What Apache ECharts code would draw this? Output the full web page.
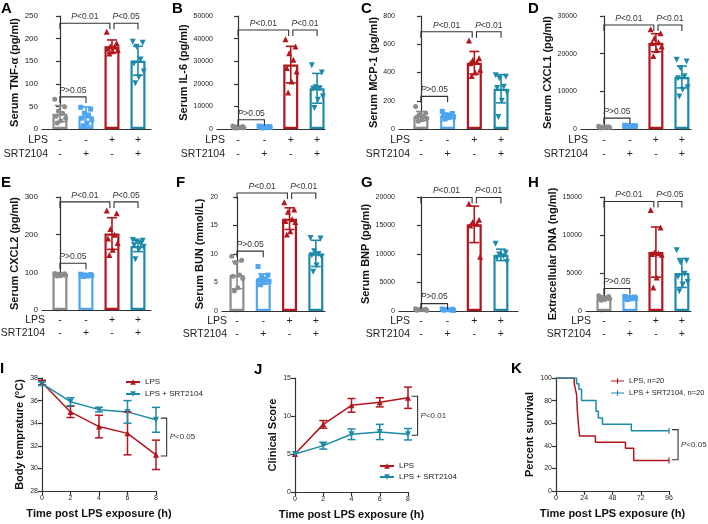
<!DOCTYPE html>
<html><head><meta charset="utf-8">
<script src="https://cdn.jsdelivr.net/npm/echarts@6/dist/echarts.min.js"></script>
<style>html,body{margin:0;padding:0;background:#fff}#c{width:708px;height:524px}</style>
</head><body><div id="c"></div>
<script>
const FONT = '"Liberation Sans", Arial, sans-serif';
// ---------- shared categories ----------
const groupNames = ['Vehicle', 'SRT2104', 'LPS', 'LPS + SRT2104'];
const lpsSigns = ['-', '-', '+', '+'];
const srtSigns = ['-', '+', '-', '+'];

// ---------- A: TNF-a ----------
const tnfMean = [34, 28, 183, 151];
const tnfSD = [18, 21, 14, 32];
const tnfPts = [[66, 49, 40, 35, 28, 24, 18, 13], [48, 44, 35, 31, 24, 20, 13, 7], [215, 190, 183, 182, 178, 175, 172, 167], [193, 191, 182, 154, 145, 127, 114, 101]];
const tnfAxis = [250, 50];
const tnfBrackets = [[0, 1.92, 234, 'P<0.01'], [2.08, 3, 234, 'P<0.05'], [0, 1, 71, 'P>0.05']];
// ---------- B: IL-6 ----------
const il6Mean = [800, 900, 28500, 18000];
const il6SD = [300, 250, 8100, 6600];
const il6Pts = [[1300, 1100, 900, 800, 700, 600, 500, 400], [1300, 1100, 1000, 900, 800, 700, 600, 500], [39700, 36500, 33500, 30600, 27000, 25400, 21000, 16200], [28200, 25000, 18500, 18000, 17800, 14400, 12900, 9300]];
const il6Axis = [50000, 10000];
const il6Brackets = [[0, 1.92, 43800, 'P<0.01'], [2.08, 3, 43800, 'P<0.01'], [0, 1, 4100, 'P>0.05']];
// ---------- C: MCP-1 ----------
const mcpMean = [91, 94, 469, 285];
const mcpSD = [33, 17, 80, 100];
const mcpPts = [[160, 113, 101, 90, 85, 75, 66, 54], [125, 110, 100, 95, 90, 85, 80, 70], [626, 501, 489, 475, 466, 419, 400, 376], [380, 370, 360, 300, 290, 260, 200, 85]];
const mcpAxis = [800, 200];
const mcpBrackets = [[0, 1.92, 689, 'P<0.01'], [2.08, 3, 689, 'P<0.01'], [0, 1, 231, 'P>0.05']];
// ---------- D: CXCL1 ----------
const cxcl1Mean = [500, 800, 22900, 13800];
const cxcl1SD = [130, 110, 2400, 2900];
const cxcl1Pts = [[700, 600, 550, 500, 450, 400, 380, 350], [1000, 900, 850, 800, 780, 750, 700, 650], [26500, 25400, 24100, 23000, 22800, 21900, 21000, 19400], [18400, 17900, 16200, 14000, 13500, 11100, 10400, 8600]];
const cxcl1Axis = [30000, 10000];
const cxcl1Brackets = [[0, 1.92, 27600, 'P<0.01'], [2.08, 3, 27600, 'P<0.01'], [0, 1, 2900, 'P>0.05']];
// ---------- E: CXCL2 ----------
const cxcl2Mean = [94, 92, 203, 170];
const cxcl2SD = [3, 2, 42, 15];
const cxcl2Pts = [[97, 96, 95, 94, 93, 92, 91, 90], [95, 94, 93, 92, 92, 91, 90, 89], [264, 257, 215, 200, 190, 178, 160, 146], [186, 184, 182, 176, 172, 168, 160, 135]];
const cxcl2Axis = [300, 100];
const cxcl2Brackets = [[0, 1.92, 287, 'P<0.01'], [2.08, 3, 287, 'P<0.05'], [0, 1, 124, 'P>0.05']];
// ---------- F: BUN ----------
const bunMean = [6.3, 5.6, 16.2, 10.1];
const bunSD = [2.4, 0.9, 1.9, 2.3];
const bunPts = [[9.6, 8.9, 8.5, 6.3, 6.1, 5.7, 4.1, 3.5], [7.8, 6.3, 6.0, 5.6, 5.4, 5.2, 5.0, 4.6], [19.1, 17.8, 17.4, 16.1, 15.8, 15.6, 14.0, 13.4], [12.8, 12.7, 10.5, 10.0, 9.8, 9.5, 8.0, 6.9]];
const bunAxis = [20, 5];
const bunBrackets = [[0, 1.92, 20.7, 'P<0.01'], [2.08, 3, 20.7, 'P<0.01'], [0, 1, 10.5, 'P>0.05']];
// ---------- G: BNP ----------
const bnpMean = [230, 225, 15200, 9850];
const bnpSD = [100, 90, 3200, 1000];
const bnpPts = [[400, 300, 250, 200, 150, 100], [350, 300, 250, 200, 150, 100], [18800, 16000, 15600, 15300, 15000, 9500], [11800, 10200, 9900, 9600, 9300, 8600]];
const bnpAxis = [20000, 5000];
const bnpBrackets = [[0, 1.92, 19900, 'P<0.01'], [2.08, 3, 19900, 'P<0.01'], [0, 1, 1300, 'P>0.05']];
// ---------- H: extracellular DNA ----------
const dnaMean = [1700, 1720, 7750, 5000];
const dnaSD = [200, 130, 3300, 1900];
const dnaPts = [[2000, 1900, 1800, 1700, 1650, 1600, 1500, 1400], [1900, 1850, 1800, 1750, 1700, 1650, 1600, 1500], [13300, 11000, 7700, 7600, 7500, 7400, 4400, 3100], [8000, 6600, 6400, 4900, 4500, 3800, 3500, 2600]];
const dnaAxis = [15000, 5000];
const dnaBrackets = [[0, 1.92, 14400, 'P<0.01'], [2.08, 3, 14400, 'P<0.05'], [0, 1, 2960, 'P>0.05']];

// ---------- I / J: time courses ----------
const timeH = [0, 2, 4, 6, 8];
const tempLps = [37.6, 35.0, 33.7, 33.1, 31.2];
const tempLpsSD = [0.2, 0.5, 1.0, 1.9, 1.3];
const tempSrt = [37.5, 35.9, 35.2, 35.0, 34.3];
const tempSrtSD = [0.15, 0.35, 0.2, 1.0, 1.1];
const tempBracket = [8.75, 34.45, 31.1, 'P<0.05'];
const scoreLps = [5, 8.9, 11.4, 11.8, 12.4];
const scoreLpsSD = [0, 0.5, 0.9, 0.6, 1.4];
const scoreSrt = [5, 6.1, 7.6, 7.9, 7.6];
const scoreSrtSD = [0, 0.45, 0.7, 1.0, 0.75];
const scoreBracket = [8.68, 12.6, 7.46, 'P<0.01'];
// ---------- K: survival ----------
const survLpsT = [0, 15.5, 16.5, 17.5, 18.2, 19, 20, 33.5, 59, 66, 96];
const survLpsS = [100, 95, 90, 85, 70, 60, 48.6, 43.2, 37.8, 27, 27];
const survSrtT = [0, 17.5, 19.5, 21.7, 34, 36, 39.5, 64, 96];
const survSrtS = [100, 95, 90, 80, 70.5, 64.6, 59, 53.4, 53.4];
const survBracket = [103.7, 54.3, 27.7, 'P<0.05'];

// ---------- styles / layout ----------
const groupColors = ['#8c8c8c', '#4ea5f2', '#b3161d', '#1c8aa8'];
const groupSymbols = ['circle', 'rect', 'triangle', 'triangle'];
const groupRotate = [0, 0, 0, 180];
const groupSizes = [5, 5, 6, 6];
const jitterX = [-0.2, 0.18, -0.06, 0.1, -0.15, 0.22, 0.03, -0.1];
const RED = '#b3161d', TEAL = '#1c8aa8', AX = '#333';

const barPanels = [
  { letter: 'A', title: 'Serum TNF-α (pg/ml)', mean: tnfMean, sd: tnfSD, pts: tnfPts, axis: tnfAxis, br: tnfBrackets },
  { letter: 'B', title: 'Serum IL-6 (pg/ml)', mean: il6Mean, sd: il6SD, pts: il6Pts, axis: il6Axis, br: il6Brackets },
  { letter: 'C', title: 'Serum MCP-1 (pg/ml)', mean: mcpMean, sd: mcpSD, pts: mcpPts, axis: mcpAxis, br: mcpBrackets },
  { letter: 'D', title: 'Serum CXCL1 (pg/ml)', mean: cxcl1Mean, sd: cxcl1SD, pts: cxcl1Pts, axis: cxcl1Axis, br: cxcl1Brackets },
  { letter: 'E', title: 'Serum CXCL2 (pg/ml)', mean: cxcl2Mean, sd: cxcl2SD, pts: cxcl2Pts, axis: cxcl2Axis, br: cxcl2Brackets },
  { letter: 'F', title: 'Serum BUN (mmol/L)', mean: bunMean, sd: bunSD, pts: bunPts, axis: bunAxis, br: bunBrackets },
  { letter: 'G', title: 'Serum BNP (pg/ml)', mean: bnpMean, sd: bnpSD, pts: bnpPts, axis: bnpAxis, br: bnpBrackets },
  { letter: 'H', title: 'Extracellular DNA (ng/ml)', mean: dnaMean, sd: dnaSD, pts: dnaPts, axis: dnaAxis, br: dnaBrackets }
];
const barLayout = [
  { left: 42, top: 16, width: 109, height: 113, xMin: -0.69, xMax: 3.5, gap: 21, tf: 8, rowRight: 48, lx: 7, ly: 9, lh: 14 },
  { left: 217, top: 16, width: 108, height: 113, xMin: -0.8, xMax: 3.3, gap: 27, tf: 7, rowRight: 225, lx: 178, ly: 9, lh: 14 },
  { left: 399, top: 16, width: 109, height: 113, xMin: -0.82, xMax: 3.26, gap: 16, tf: 7, rowRight: 410, lx: 367, ly: 9, lh: 14 },
  { left: 581, top: 16, width: 110, height: 113, xMin: -0.88, xMax: 3.35, gap: 23, tf: 7, rowRight: 588, lx: 534, ly: 9, lh: 14 },
  { left: 42, top: 197, width: 109, height: 113, xMin: -0.69, xMax: 3.5, gap: 22, tf: 8, rowRight: 45, lx: 7, ly: 183, lh: 13 },
  { left: 222, top: 197, width: 103, height: 114, xMin: -0.57, xMax: 3.35, gap: 17, tf: 7, rowRight: 227, lx: 182, ly: 183, lh: 13 },
  { left: 399, top: 197, width: 119, height: 114, xMin: -0.82, xMax: 3.64, gap: 24, tf: 7, rowRight: 410, lx: 367, ly: 183, lh: 13 },
  { left: 586, top: 197, width: 105, height: 114, xMin: -0.69, xMax: 3.35, gap: 13, tf: 7, rowRight: 591, lx: 534, ly: 183, lh: 13 }
];

const grids = [], xAxes = [], yAxes = [], series = [], graphics = [], legends = [];

function richP(txt, size) {
  return { text: '{i|P}' + txt.slice(1), rich: { i: { fontStyle: 'italic', fontSize: size, fontFamily: FONT, fill: AX } }, fontSize: size, fontFamily: FONT, fill: AX };
}
function yAxisBase(i, min, max, interval, fs, title, gap) {
  return {
    type: 'value', gridIndex: i, min: min, max: max, interval: interval,
    name: title, nameLocation: 'middle', nameGap: gap,
    nameTextStyle: { fontSize: 11, fontWeight: 'bold', color: '#111', fontFamily: FONT },
    axisLine: { show: true, lineStyle: { color: AX, width: 1.2 } },
    axisTick: { show: true, length: 4, lineStyle: { color: AX, width: 1.2 } },
    splitLine: { show: false },
    axisLabel: { fontSize: fs, color: '#222', margin: 4, fontFamily: FONT, formatter: v => String(v) }
  };
}

barPanels.forEach((p, i) => {
  const L = barLayout[i];
  grids.push({ left: L.left, top: L.top, width: L.width, height: L.height });
  xAxes.push({
    type: 'value', gridIndex: i, min: L.xMin, max: L.xMax,
    axisLine: { show: true, onZero: false, lineStyle: { color: AX, width: 1.2 } },
    axisTick: { show: false }, splitLine: { show: false },
    axisLabel: {
      customValues: [0, 1, 2, 3],
      formatter: v => lpsSigns[Math.round(v)] + '\n' + srtSigns[Math.round(v)],
      fontSize: 10.5, lineHeight: L.lh, color: '#222', margin: 4, fontFamily: FONT
    }
  });
  yAxes.push(yAxisBase(i, 0, p.axis[0], p.axis[1], L.tf, p.title, L.gap));
  series.push({
    type: 'bar', xAxisIndex: i, yAxisIndex: i, barWidth: 15, z: 1, silent: true,
    itemStyle: { color: '#fff', borderWidth: 2.2 },
    data: p.mean.map((m, j) => ({ value: [j, m], itemStyle: { borderColor: groupColors[j] } }))
  });
  p.pts.forEach((arr, j) => {
    series.push({
      type: 'scatter', xAxisIndex: i, yAxisIndex: i, z: 3, silent: true,
      symbol: groupSymbols[j], symbolRotate: groupRotate[j], symbolSize: groupSizes[j],
      itemStyle: { color: groupColors[j], opacity: 1 },
      data: arr.map((v, k) => [j + jitterX[k], v])
    });
  });
  series.push({
    type: 'custom', xAxisIndex: i, yAxisIndex: i, z: 4, silent: true, clip: false,
    data: p.mean.map((m, j) => [j, m, p.sd[j], j]),
    renderItem: (params, api) => {
      const x = api.value(0), m = api.value(1), s = api.value(2), c = groupColors[api.value(3)];
      const t = api.coord([x, m + s]), b = api.coord([x, Math.max(m - s, 0)]);
      const st = { stroke: c, lineWidth: 1.6 };
      return { type: 'group', children: [
        { type: 'line', shape: { x1: t[0], y1: t[1], x2: b[0], y2: b[1] }, style: st },
        { type: 'line', shape: { x1: t[0] - 5, y1: t[1], x2: t[0] + 5, y2: t[1] }, style: st },
        { type: 'line', shape: { x1: b[0] - 5, y1: b[1], x2: b[0] + 5, y2: b[1] }, style: st }
      ] };
    }
  });
  const br = p.br;
  series.push({
    type: 'custom', xAxisIndex: i, yAxisIndex: i, z: 5, silent: true, clip: false,
    data: br.map(b => [b[0], b[1], b[2]]),
    renderItem: (params, api) => {
      const p1 = api.coord([api.value(0), api.value(2)]);
      const p2 = api.coord([api.value(1), api.value(2)]);
      const leg = 6;
      return { type: 'group', children: [
        { type: 'polyline', shape: { points: [[p1[0], p1[1] + leg], [p1[0], p1[1]], [p2[0], p2[1]], [p2[0], p2[1] + leg]] }, style: { stroke: AX, fill: null, lineWidth: 1.1 } },
        { type: 'text', x: (p1[0] + p2[0]) / 2, y: p1[1] - 2, style: Object.assign(richP(br[params.dataIndex][3], 8.5), { align: 'center', verticalAlign: 'bottom' }) }
      ] };
    }
  });
  graphics.push({ type: 'text', left: L.lx - 6, top: L.ly - 8, style: { text: p.letter, font: 'bold 15px ' + FONT, fill: '#000' } });
  const axisY = L.top + L.height;
  graphics.push({ type: 'text', x: L.rowRight, y: axisY + 4 + L.lh / 2, style: { text: 'LPS', fontSize: 10.5, fontFamily: FONT, fill: '#222', align: 'right', verticalAlign: 'middle' } });
  graphics.push({ type: 'text', x: L.rowRight, y: axisY + 4 + L.lh * 1.5, style: { text: 'SRT2104', fontSize: 10.5, fontFamily: FONT, fill: '#222', align: 'right', verticalAlign: 'middle' } });
});

// ---------- line panels ----------
const linePanels = [
  { letter: 'I', left: 42, top: 378, width: 114, height: 113, xMax: 8, xInt: 2, yMin: 28, yMax: 38, yInt: 2, title: 'Body temprature (°C)', gap: 17, lx: 6, ly: 369 },
  { letter: 'J', left: 295, top: 378, width: 113, height: 114, xMax: 8, xInt: 2, yMin: 0, yMax: 15, yInt: 5, title: 'Clinical Score', gap: 17, lx: 260, ly: 370 },
  { letter: 'K', left: 556, top: 378, width: 113, height: 113, xMax: 96, xInt: 24, yMin: 0, yMax: 100, yInt: 20, title: 'Percent survival', gap: 21, lx: 517, ly: 369 }
];
linePanels.forEach((p, k) => {
  const gi = 8 + k;
  grids.push({ left: p.left, top: p.top, width: p.width, height: p.height });
  xAxes.push({
    type: 'value', gridIndex: gi, min: 0, max: p.xMax, interval: p.xInt,
    name: 'Time post LPS exposure (h)', nameLocation: 'middle', nameGap: 17,
    nameTextStyle: { fontSize: 11, fontWeight: 'bold', color: '#111', fontFamily: FONT },
    axisLine: { show: true, onZero: false, lineStyle: { color: AX, width: 1.2 } },
    axisTick: { show: true, length: 4, lineStyle: { color: AX, width: 1.2 } },
    splitLine: { show: false },
    axisLabel: { fontSize: 7, color: '#222', margin: 4, fontFamily: FONT }
  });
  yAxes.push(yAxisBase(gi, p.yMin, p.yMax, p.yInt, 7, p.title, p.gap));
  graphics.push({ type: 'text', left: p.lx - 6, top: p.ly - 8, style: { text: p.letter, font: 'bold 15px ' + FONT, fill: '#000' } });
});

function errSeries(gi, xs, ms, sds, color) {
  return {
    type: 'custom', xAxisIndex: gi, yAxisIndex: gi, z: 4, silent: true, clip: false,
    data: xs.map((x, j) => [x, ms[j], sds[j]]),
    renderItem: (params, api) => {
      const x = api.value(0), m = api.value(1), s = api.value(2);
      if (s <= 0) return null;
      const t = api.coord([x, m + s]), b = api.coord([x, m - s]);
      const st = { stroke: color, lineWidth: 1.5 };
      return { type: 'group', children: [
        { type: 'line', shape: { x1: t[0], y1: t[1], x2: b[0], y2: b[1] }, style: st },
        { type: 'line', shape: { x1: t[0] - 4, y1: t[1], x2: t[0] + 4, y2: t[1] }, style: st },
        { type: 'line', shape: { x1: b[0] - 4, y1: b[1], x2: b[0] + 4, y2: b[1] }, style: st }
      ] };
    }
  };
}
function vBracket(gi, b) {
  return {
    type: 'custom', xAxisIndex: gi, yAxisIndex: gi, z: 5, silent: true, clip: false,
    data: [[b[0], b[1], b[2]]],
    renderItem: (params, api) => {
      const t = api.coord([api.value(0), api.value(1)]);
      const bt = api.coord([api.value(0), api.value(2)]);
      return { type: 'group', children: [
        { type: 'polyline', shape: { points: [[t[0] - 6, t[1]], [t[0], t[1]], [bt[0], bt[1]], [bt[0] - 6, bt[1]]] }, style: { stroke: AX, fill: null, lineWidth: 1.1 } },
        { type: 'text', x: t[0] + 3, y: (t[1] + bt[1]) / 2, style: Object.assign(richP(b[3], 8), { align: 'left', verticalAlign: 'middle' }) }
      ] };
    }
  };
}
function lineSeries(gi, name, xs, ys, color, rot) {
  return {
    type: 'line', name: name, xAxisIndex: gi, yAxisIndex: gi, z: 3, silent: true,
    symbol: 'triangle', symbolSize: 6, symbolRotate: rot, showSymbol: true,
    lineStyle: { color: color, width: 1.5 }, itemStyle: { color: color },
    data: xs.map((x, j) => [x, ys[j]])
  };
}
series.push(lineSeries(8, 'LPS', timeH, tempLps, RED, 0));
series.push(lineSeries(8, 'LPS + SRT2104', timeH, tempSrt, TEAL, 180));
series.push(errSeries(8, timeH, tempLps, tempLpsSD, RED));
series.push(errSeries(8, timeH, tempSrt, tempSrtSD, TEAL));
series.push(vBracket(8, tempBracket));
series.push(lineSeries(9, 'LPS', timeH, scoreLps, RED, 0));
series.push(lineSeries(9, 'LPS + SRT2104', timeH, scoreSrt, TEAL, 180));
series.push(errSeries(9, timeH, scoreLps, scoreLpsSD, RED));
series.push(errSeries(9, timeH, scoreSrt, scoreSrtSD, TEAL));
series.push(vBracket(9, scoreBracket));
function survSeries(name, ts, ss, color) {
  return {
    type: 'line', name: name, xAxisIndex: 10, yAxisIndex: 10, step: 'end', z: 3, silent: true,
    symbol: 'none', lineStyle: { color: color, width: 1.5 }, itemStyle: { color: color },
    data: ts.map((t, j) => [t, ss[j]])
  };
}
series.push(survSeries('LPS, n=20', survLpsT, survLpsS, RED));
series.push(survSeries('LPS + SRT2104, n=20', survSrtT, survSrtS, TEAL));
series.push({
  type: 'scatter', xAxisIndex: 10, yAxisIndex: 10, z: 4, silent: true, symbol: 'rect', symbolSize: [1.5, 6],
  data: [{ value: [survLpsT[survLpsT.length - 1], survLpsS[survLpsS.length - 1]], itemStyle: { color: RED } },
         { value: [survSrtT[survSrtT.length - 1], survSrtS[survSrtS.length - 1]], itemStyle: { color: TEAL } }]
});
series.push(vBracket(10, survBracket));

const legTxt = { fontSize: 8, color: '#222', fontFamily: FONT };
const censorIcon = 'path://M0,3.4 L14,3.4 L14,4.6 L0,4.6 Z M6.4,1 L7.6,1 L7.6,7 L6.4,7 Z';
legends.push({ orient: 'vertical', left: 120, top: 373, itemWidth: 14, itemHeight: 7, itemGap: 4, textStyle: legTxt, data: ['LPS', 'LPS + SRT2104'], selectedMode: false });
legends.push({ orient: 'vertical', left: 374, top: 457, itemWidth: 14, itemHeight: 7, itemGap: 3, textStyle: legTxt, data: ['LPS', 'LPS + SRT2104'], selectedMode: false });
legends.push({ orient: 'vertical', left: 606, top: 372, itemWidth: 13, itemHeight: 7, itemGap: 4, textStyle: { fontSize: 7.5, color: '#222', fontFamily: FONT }, icon: censorIcon, data: ['LPS, n=20', 'LPS + SRT2104, n=20'], selectedMode: false });

const chart = echarts.init(document.getElementById('c'), null, { renderer: 'canvas' });
chart.setOption({
  animation: false,
  backgroundColor: '#fff',
  textStyle: { fontFamily: FONT },
  grid: grids, xAxis: xAxes, yAxis: yAxes, series: series,
  legend: legends, graphic: graphics
});
</script></body></html>
